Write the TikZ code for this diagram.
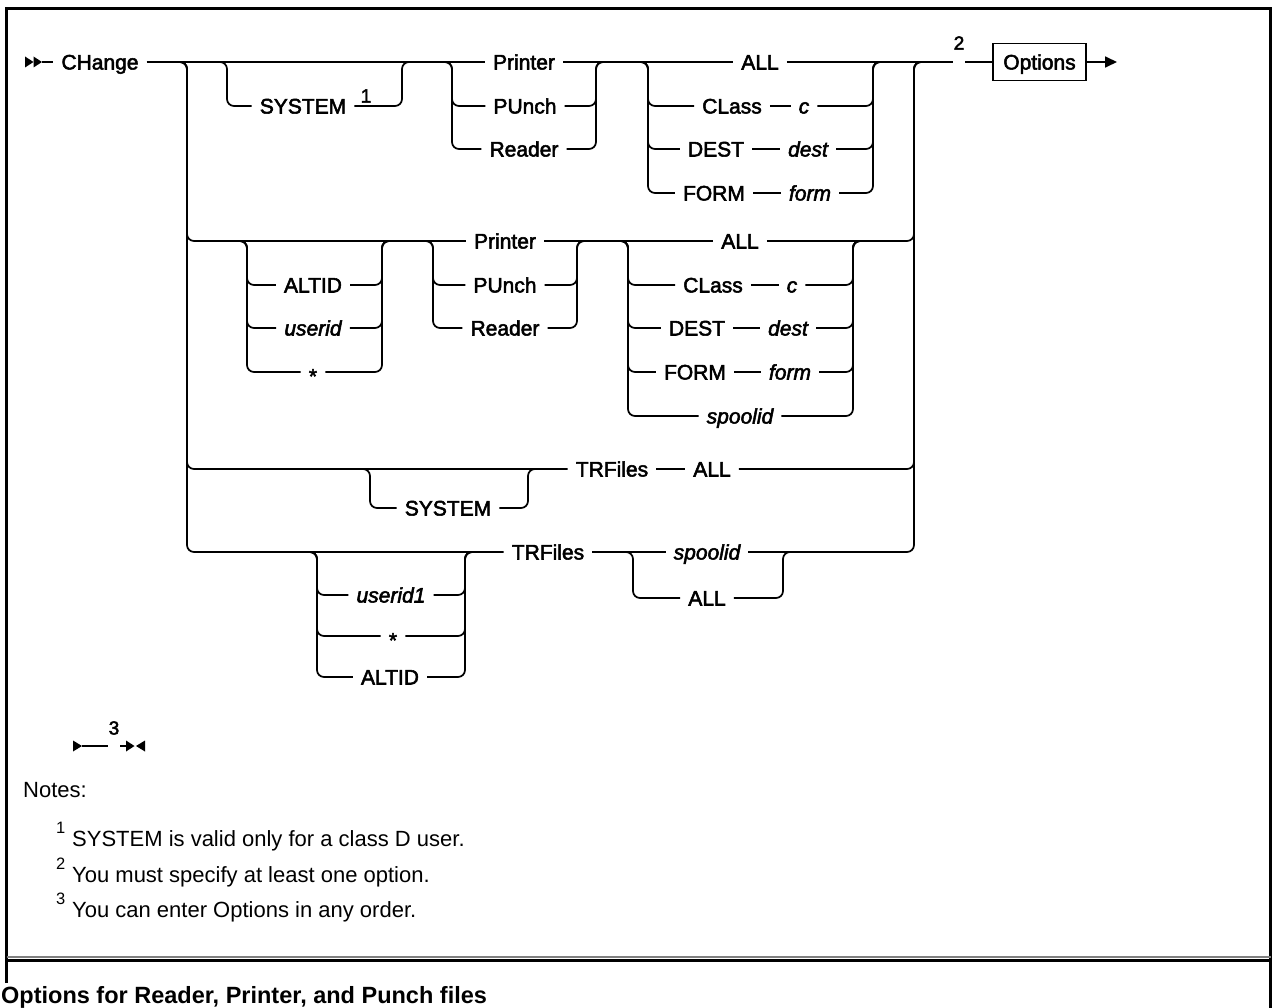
\documentclass[tikz,border=0pt]{standalone}
\usepackage{fontspec}
\setmainfont{Liberation Sans}
\newfontfamily\railfont[FakeBold=2.5]{Liberation Sans}
\usepackage{tikz}
\usetikzlibrary{arrows.meta,positioning}
\tikzstyle{rail} = [line width=1.7pt, rounded corners=7pt]
\tikzstyle{kw} = [font=\railfont\fontsize{21}{24}\selectfont, inner xsep=8pt, inner ysep=0pt, text height=15pt, text depth=0pt]
\tikzstyle{var} = [kw, font=\railfont\fontsize{21}{24}\selectfont\itshape]
\tikzstyle{ref} = [font=\railfont\fontsize{19}{22}\selectfont, inner xsep=1pt, inner ysep=0pt]
\tikzstyle{note} = [font=\fontsize{22}{26}\selectfont, anchor=base west, inner sep=0pt]
\tikzstyle{noteref} = [font=\fontsize{16.5}{18}\selectfont, anchor=base west, inner sep=0pt]

\begin{document}
\begin{tikzpicture}[x=1pt, y=-1pt]
\useasboundingbox (0,0) rectangle (1274,1008);

% Frame
\draw[line width=2.5pt] (6.5,983) -- (6.5,8.5) -- (1270.5,8.5) -- (1270.5,1012);
\draw[line width=2pt, black!50] (6.5,957) -- (1270.5,957);
\draw[line width=3pt] (6.5,960.5) -- (1270.5,960.5);

% Rails and group edges
\coordinate (lm) at (187,62);
\coordinate (rm) at (914,62);
\coordinate (a1l) at (227,62);  \coordinate (a1r) at (402,62);
\coordinate (a2l) at (452,62);  \coordinate (a2r) at (596,62);
\coordinate (a3l) at (648,62);  \coordinate (a3r) at (873,62);
\coordinate (b1l) at (247,241); \coordinate (b1r) at (382,241);
\coordinate (b2l) at (433,241); \coordinate (b2r) at (577,241);
\coordinate (b3l) at (628,241); \coordinate (b3r) at (853,241);
\coordinate (c1l) at (370,469); \coordinate (c1r) at (528,469);
\coordinate (d1l) at (317,552); \coordinate (d1r) at (465,552);
\coordinate (d2l) at (633,552); \coordinate (d2r) at (783,552);

% First row
\node[kw] (chg) at (100,62) {CHange};
\node[kw] (sys1) at (303,106) {SYSTEM};
\node[ref] (r1) at (366,96) {1};
\node[kw] (prt1) at (524,62) {Printer};
\node[kw] (pun1) at (525,106) {PUnch};
\node[kw] (rdr1) at (524,149) {Reader};
\node[kw] (all1) at (760,62) {ALL};
\node[kw] (cls1) at (732,106) {CLass};
\node[var] (c1) at (804,106) {c};
\node[kw] (dst1) at (716,149) {DEST};
\node[var] (dest1) at (808,149) {dest};
\node[kw] (frm1) at (714,193) {FORM};
\node[var] (form1) at (810,193) {form};
\node[ref] (r2) at (959,43) {2};
\node[kw, draw, line width=1.7pt, inner xsep=0pt, minimum width=93pt, minimum height=37pt] (opt) at (1039.5,62) {Options};

% Second row
\node[kw] (alt2) at (313,285) {ALTID};
\node[var] (usr2) at (313,328) {userid};
\node[kw] (st2) at (313,372) {\raisebox{-4pt}{*}};
\node[kw] (prt2) at (505,241) {Printer};
\node[kw] (pun2) at (505,285) {PUnch};
\node[kw] (rdr2) at (505,328) {Reader};
\node[kw] (all2) at (740,241) {ALL};
\node[kw] (cls2) at (713,285) {CLass};
\node[var] (c2) at (792,285) {c};
\node[kw] (dst2) at (697,328) {DEST};
\node[var] (dest2) at (788,328) {dest};
\node[kw] (frm2) at (695,372) {FORM};
\node[var] (form2) at (790,372) {form};
\node[var] (spl2) at (740,416) {spoolid};

% Third row
\node[kw] (sys3) at (448,508) {SYSTEM};
\node[kw] (trf3) at (612,469) {TRFiles};
\node[kw] (all3) at (712,469) {ALL};

% Fourth row
\node[kw] (trf4) at (548,552) {TRFiles};
\node[var] (uid4) at (391,595) {userid1};
\node[kw] (st4) at (393,636) {\raisebox{-4pt}{*}};
\node[kw] (alt4) at (390,677) {ALTID};
\node[var] (spl4) at (707,552) {spoolid};
\node[kw] (all4) at (707,598) {ALL};

% Main line
\foreach \x in {25,33.5} \fill (\x,56.5) -- (\x+8.5,62) -- (\x,67.5) -- cycle;
\coordinate (bgn) at (42,62);
\coordinate (fin) at (1117,62);
\draw[rail] (bgn) -- (chg.west);
\draw[rail] (chg.east) -- (prt1.west);
\draw[rail] (prt1.east) -- (all1.west);
\draw[rail] (all1.east) -- (r2.west |- all1);
\draw[rail] (r2.east |- opt) -- (opt.west);
\draw[rail, -{Triangle[length=12pt,width=11pt]}] (opt.east) -- (fin);

% Other rows
\draw[rail] (prt2.east) -- (all2.west);
\draw[rail] (all2.east) -- (b3r);
\draw[rail] (trf3.east) -- (all3.west);
\draw[rail] (trf4.east) -- (spl4.west);
\draw[rail] (spl4.east) -- (d2r);
\foreach \a/\b in {cls1/c1, dst1/dest1, frm1/form1, cls2/c2, dst2/dest2, frm2/form2}
  \draw[rail] (\a.east) -- (\b.west);

% Left and right rails
\foreach \n in {prt2,trf3,trf4}
  \draw[rail] ([xshift=-10pt]lm) -- (lm) -- (lm |- \n) -- (\n.west);
\foreach \s in {b3r,all3.east,d2r}
  \draw[rail] (\s) -- (rm |- \s) -- (rm) -- ([xshift=10pt]rm);

% Choices
\foreach \g/\n in {a1l/sys1, a2l/pun1, a2l/rdr1, a3l/cls1, a3l/dst1, a3l/frm1,
    b1l/alt2, b1l/usr2, b1l/st2, b2l/pun2, b2l/rdr2, b3l/cls2, b3l/dst2, b3l/frm2, b3l/spl2,
    c1l/sys3, d1l/uid4, d1l/st4, d1l/alt4, d2l/all4}
  \draw[rail] ([xshift=-10pt]\g) -- (\g) -- (\g |- \n) -- (\n.west);
\foreach \g/\n in {a1r/sys1, a2r/pun1, a2r/rdr1, a3r/c1, a3r/dest1, a3r/form1,
    b1r/alt2, b1r/usr2, b1r/st2, b2r/pun2, b2r/rdr2, b3r/c2, b3r/dest2, b3r/form2, b3r/spl2,
    c1r/sys3, d1r/uid4, d1r/st4, d1r/alt4, d2r/all4}
  \draw[rail] (\n.east) -- (\g |- \n) -- (\g) -- ([xshift=10pt]\g);

% Fragment end
\node[ref] (r3) at (114,728) {3};
\coordinate (ft) at (82,746);
\coordinate (fe) at (126,746);
\fill (73,740.5) -- (82,746) -- (73,751.5) -- cycle;
\draw[rail] (ft) -- (r3.west |- ft);
\draw[rail] (r3.east |- ft) -- (fe);
\fill (126,740.5) -- (134.5,746) -- (126,751.5) -- cycle;
\fill (145,740.5) -- (136,746) -- (145,751.5) -- cycle;

% Notes
\node[note] (notes) at (23,797) {Notes:};
\node[noteref] (n1) at (56,833) {1};
\node[note] (t1) at (72,846) {SYSTEM is valid only for a class D user.};
\node[noteref] (n2) at (56,869) {2};
\node[note] (t2) at (72,882) {You must specify at least one option.};
\node[noteref] (n3) at (56,904) {3};
\node[note] (t3) at (72,917) {You can enter Options in any order.};

% Heading below
\node[note, font=\bfseries\fontsize{23.5}{28}\selectfont] (hd) at (1,1003) {Options for Reader, Printer, and Punch files};
\end{tikzpicture}
\end{document}
